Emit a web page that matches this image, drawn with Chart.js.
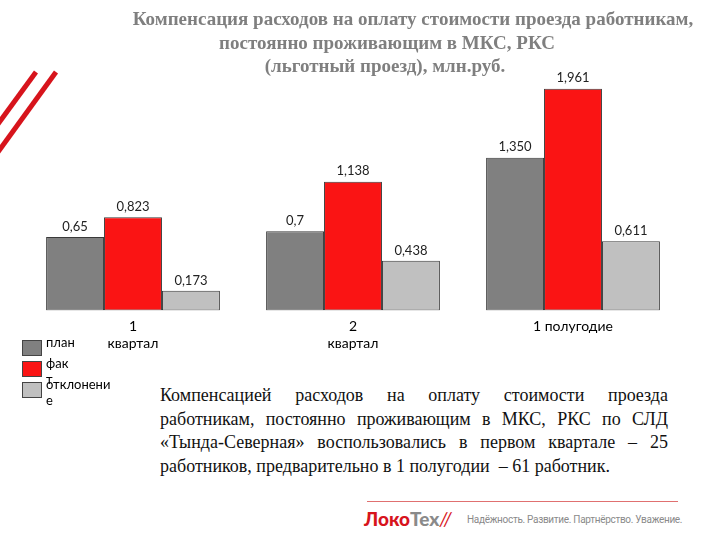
<!DOCTYPE html>
<html>
<head>
<meta charset="utf-8">
<script src="https://cdn.jsdelivr.net/npm/chart.js@4"></script>
<style>
  body { margin: 0; width: 720px; height: 540px; background: #fff; position: relative; overflow: hidden; }
  #wrap { position: absolute; left: 0; top: 0; width: 720px; height: 360px; }
  .title { position: absolute; font-family: "Liberation Serif", serif; font-weight: bold; font-size: 19px; color: #7f7f7f; white-space: nowrap; transform: translateX(-50%); }
  #legend { position: absolute; left: 22px; top: 340px; font-family: Lato, sans-serif; font-size: 13px; color: #000; }
  .lg-item { position: absolute; left: 0; white-space: pre; line-height: 16px; }
  .lg-box { position: absolute; left: 0; width: 18px; height: 14px; border: 1px solid #444; }
  .lg-text { position: absolute; left: 24px; top: -6px; }
  #note { position: absolute; left: 160px; top: 384px; width: 508px; font-family: "Liberation Serif", serif; font-size: 18px; line-height: 23.5px; text-align: justify; color: #111; }
  #footline { position: absolute; left: 367px; top: 501px; width: 311px; height: 1px; background: #e07070; }
  #logo { position: absolute; left: 364px; top: 507px; font-family: Lato, sans-serif; font-weight: 900; font-size: 19px; white-space: nowrap; }
  #slogan { position: absolute; left: 467px; top: 514px; font-family: Roboto, sans-serif; font-size: 10px; color: #8a8a8a; white-space: nowrap; letter-spacing: -0.3px; }
</style>
</head>
<body>
<svg width="720" height="540" style="position:absolute;left:0;top:0">
  <line x1="36" y1="72" x2="-2" y2="124" stroke="#d7141c" stroke-width="5"/>
  <line x1="56" y1="72" x2="-2" y2="152" stroke="#d7141c" stroke-width="5"/>
</svg>
<div id="wrap"><canvas id="myBars"></canvas></div>
<div class="title" style="left:413px;top:8px">Компенсация расходов на оплату стоимости проезда работникам,</div>
<div class="title" style="left:387px;top:32px">постоянно проживающим в МКС, РКС</div>
<div class="title" style="left:385px;top:55px">(льготный проезд), млн.руб.</div>
<div id="legend"></div>
<div id="note">Компенсацией расходов на оплату стоимости проезда работникам, постоянно проживающим в МКС, РКС по СЛД «Тында-Северная» воспользовались в первом квартале – 25 работников, предварительно в 1 полугодии&nbsp; – 61 работник.</div>
<div id="footline"></div>
<div id="logo"><span style="color:#d7141c">Локо</span><span style="color:#8a8a8a">Тех</span><span style="color:#d7141c;font-weight:normal;font-style:italic">//</span></div>
<div id="slogan">Надёжность. Развитие. Партнёрство. Уважение.</div>
<script>
const categories = [['1', 'квартал'], ['2', 'квартал'], '1 полугодие'];
const seriesNames = ['план', 'факт', 'отклонение'];
const legendText = ['план', 'фак\nт', 'отклонени\nе'];
const planValues = [0.65, 0.7, 1.35];
const factValues = [0.823, 1.138, 1.961];
const devValues = [0.173, 0.438, 0.611];
const planLabels = ['0,65', '0,7', '1,350'];
const factLabels = ['0,823', '1,138', '1,961'];
const devLabels = ['0,173', '0,438', '0,611'];
const seriesColors = ['#808080', '#fa1414', '#c0c0c0'];

const valueLabels = {
  id: 'valueLabels',
  afterDatasetsDraw(chart) {
    let ctx = chart.ctx;
    ctx.save();
    ctx.font = '13px Lato';
    ctx.fillStyle = '#222';
    ctx.textAlign = 'center';
    ctx.textBaseline = 'bottom';
    chart.data.datasets.forEach(function(ds, i) {
      let meta = chart.getDatasetMeta(i);
      meta.data.forEach(function(bar, j) {
        ctx.fillText(ds.valueText[j], bar.x, bar.y - 4);
      });
    });
    ctx.restore();
  }
};

function myBars() {
  let ctx = document.querySelector('#myBars').getContext('2d');
  new Chart(ctx, {
    type: 'bar',
    data: {
      labels: categories,
      datasets: [
        {label: seriesNames[0], data: planValues, valueText: planLabels, backgroundColor: seriesColors[0]},
        {label: seriesNames[1], data: factValues, valueText: factLabels, backgroundColor: seriesColors[1]},
        {label: seriesNames[2], data: devValues, valueText: devLabels, backgroundColor: seriesColors[2]}
      ]
    },
    options: {
      responsive: true,
      maintainAspectRatio: false,
      animation: false,
      layout: {padding: {left: 23, right: 37, top: 39, bottom: 0}},
      datasets: {bar: {barPercentage: 1, categoryPercentage: 0.79, borderWidth: 1, borderColor: '#3a3a3a', borderSkipped: false}},
      plugins: {legend: {display: false}, tooltip: {enabled: false}},
      scales: {
        x: {
          grid: {display: false, drawTicks: false},
          border: {display: false},
          ticks: {color: '#000', font: {family: 'Lato', size: 14}, padding: 8, maxRotation: 0}
        },
        y: {display: false, min: 0, max: 2.4}
      }
    },
    plugins: [valueLabels]
  });
}
myBars();

function legend() {
  let box = document.querySelector('#legend');
  let tops = [0, 21, 42];
  for (let i = 0; i < seriesNames.length; i++) {
    let item = document.createElement('div');
    item.className = 'lg-item';
    item.style.top = tops[i] + 'px';
    item.innerHTML = '<div class="lg-box" style="background:' + seriesColors[i] + '"></div>';
    let t = document.createElement('div');
    t.className = 'lg-text';
    t.textContent = legendText[i];
    item.appendChild(t);
    box.appendChild(item);
  }
}
legend();
</script>
</body>
</html>
